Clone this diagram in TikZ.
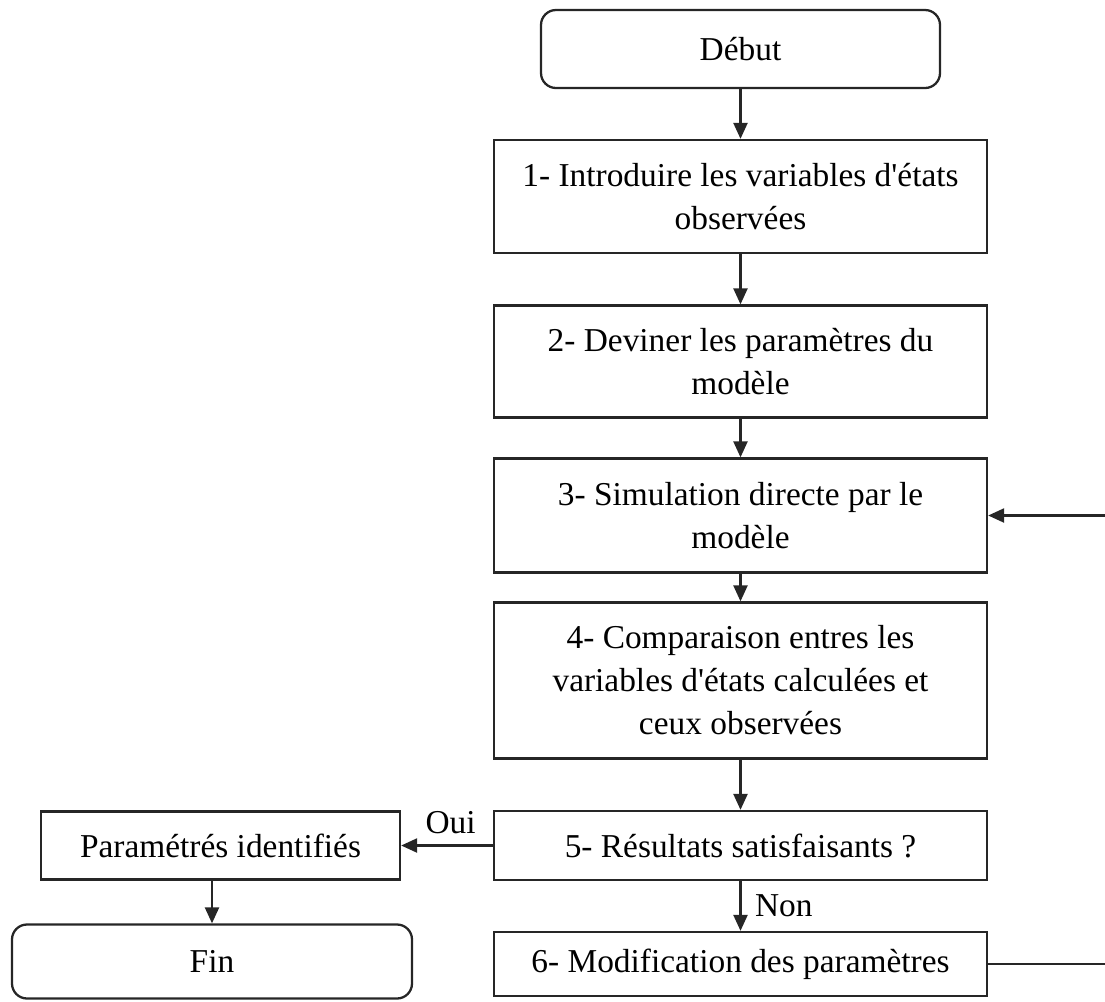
\documentclass[tikz,border=0pt]{standalone}
\usepackage{fontspec}
\setmainfont{Liberation Serif}
\usetikzlibrary{arrows.meta}
\tikzstyle{etape} = [rectangle, minimum width=9.86cm, text centered,
                     align=center, draw=black!85, line width=1.3pt,
                     font=\fontsize{19}{24.5}\selectfont]
\tikzstyle{terminal} = [etape, rounded corners=0.3cm, minimum width=7.98cm,
                        minimum height=1.56cm]
\tikzstyle{arrow} = [line width=1.3pt, draw=black!85, ->,
                     >={Triangle[length=0.32cm, width=0.28cm]}]
\tikzstyle{line} = [line width=1.3pt, draw=black!85]

\begin{document}
\begin{tikzpicture}[node distance=3.3cm]
        \useasboundingbox (0,0) rectangle (22.1,-20.02);
        \coordinate (bordD) at (22.1,0);

        %Debut
        \node at (14.81,-0.98)(Debut) [terminal] {Début};

        %Etapes 1 a 6
        \node (Intro) [etape, minimum height=2.26cm, below of = Debut, yshift=0.35cm]
              {1- Introduire les variables d\textquotesingle états\\observées};
        \node (Deviner) [etape, minimum height=2.24cm, below of = Intro]
              {2- Deviner les paramètres du\\modèle};
        \node (Simul) [etape, minimum height=2.28cm, below of = Deviner, yshift=0.22cm]
              {3- Simulation directe par le\\modèle};
        \node (Compar) [etape, minimum height=3.12cm, below of = Simul]
              {4- Comparaison entres les\\variables d\textquotesingle états calculées et\\ceux observées};
        \node (Result) [etape, minimum height=1.38cm, below of = Compar]
              {5- Résultats satisfaisants ?};
        \node (Modif) [etape, minimum height=1.28cm, below of = Result, yshift=0.93cm]
              {6- Modification des paramètres};

        %Sortie
        \node (Param) [etape, minimum width=7.18cm, minimum height=1.36cm,
                       left of = Result, xshift=-7.1cm] {Paramétrés identifiés};
        \node (Fin) [terminal, minimum width=8cm, minimum height=1.48cm,
                     below of = Param, xshift=-0.17cm, yshift=0.98cm] {Fin};

        %Fleches
        \draw [arrow] (Debut) -- (Intro);
        \draw [arrow] (Intro) -- (Deviner);
        \draw [arrow] (Deviner) -- (Simul);
        \draw [arrow] (Simul) -- (Compar);
        \draw [arrow] (Compar) -- (Result);
        \draw [arrow] (Result) -- node[right, xshift=0.15cm,
                       font=\fontsize{19}{24.5}\selectfont] {Non} (Modif);
        \draw [arrow] (Result.west) -- node[above, pos=0.46, yshift=0.1cm,
                       font=\fontsize{19}{24.5}\selectfont] {Oui} (Param.east);
        \draw [arrow] (Fin.north |- Param.south) -- (Fin.north);

        %Retour vers l'etape 3
        \draw [line] (Modif.east) -- (Modif.east -| bordD);
        \draw [arrow] (bordD |- Simul.east) -- (Simul.east);
\end{tikzpicture}
\end{document}
